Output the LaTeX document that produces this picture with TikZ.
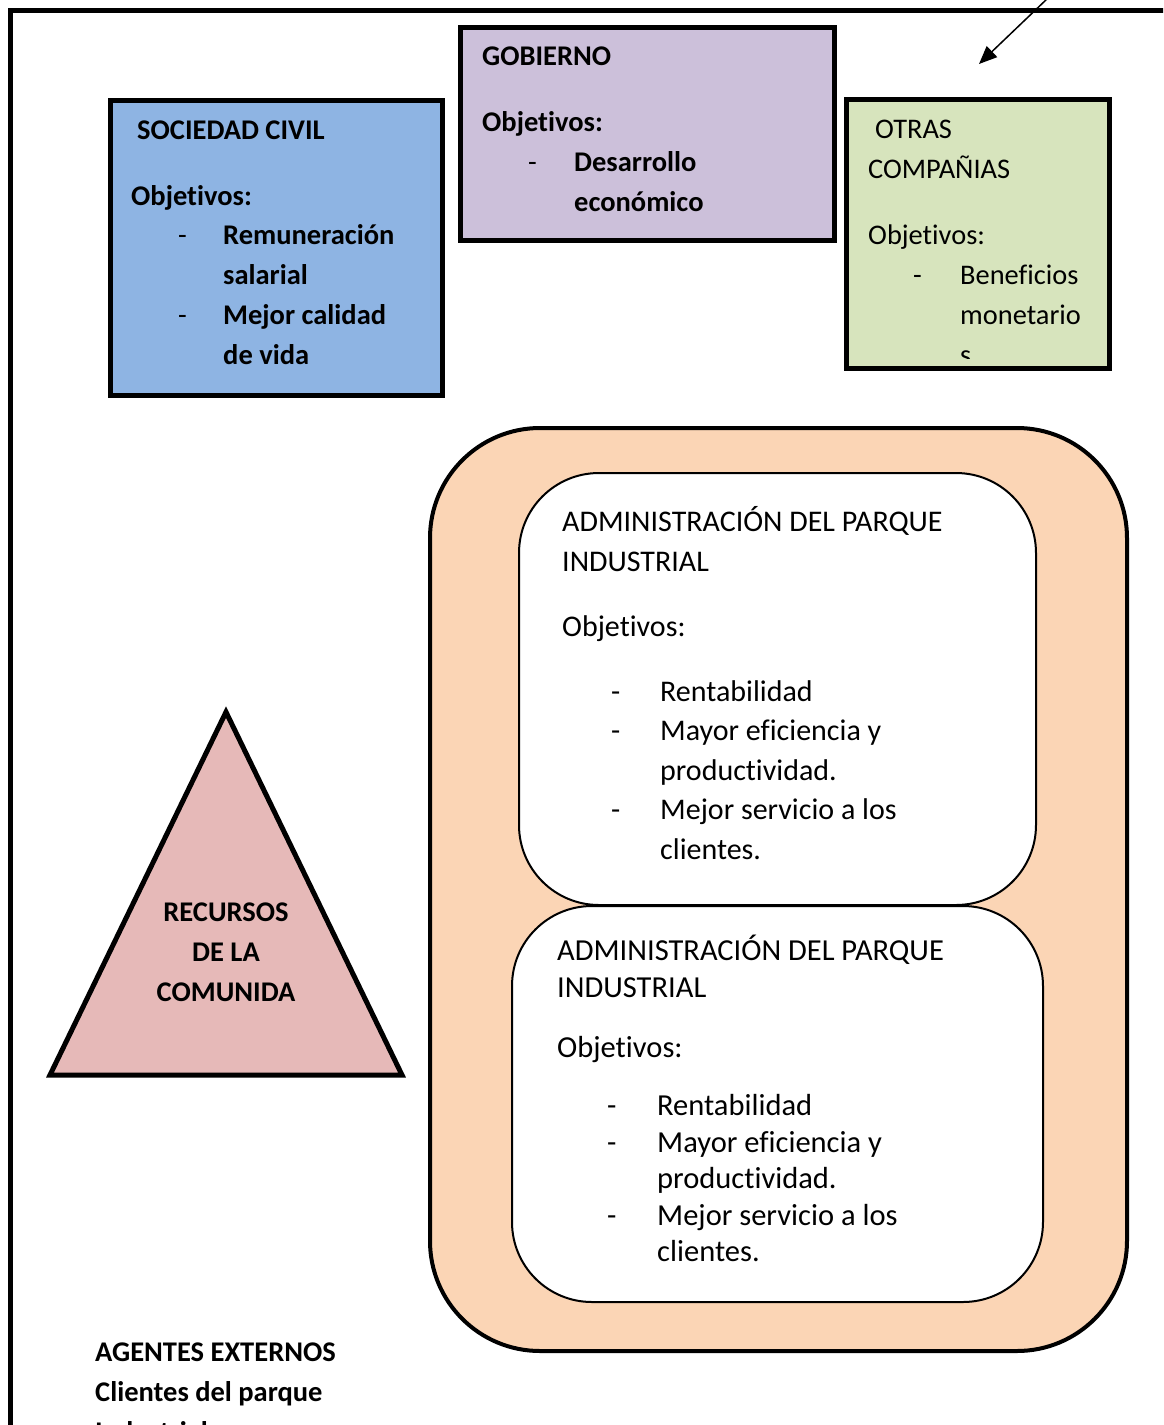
\documentclass[tikz,border=0pt]{standalone}
\usepackage{fontspec}
\setmainfont{Carlito}[Ligatures=NoCommon,RawFeature={-liga;-clig;-calt}]
\usetikzlibrary{arrows.meta}
\definecolor{civilc}{RGB}{142,180,227}
\definecolor{gobc}{RGB}{204,192,218}
\definecolor{otrasc}{RGB}{215,228,189}
\definecolor{triac}{RGB}{230,185,184}
\definecolor{peachc}{RGB}{251,213,181}
\begin{document}
\begin{tikzpicture}[x=1pt,y=-1pt,
  cbox/.style={draw,line width=5pt,anchor=north west,outer sep=0pt,inner sep=0pt},
  rbox/.style={draw,line width=2pt,fill=white,anchor=north west,outer sep=0pt,inner sep=0pt,rounded corners=80pt},
  boldtxt/.style={inner sep=0pt,anchor=base west,font=\fontsize{28.5}{34}\selectfont\bfseries},
  regtxt/.style={inner sep=0pt,anchor=base west,font=\fontsize{28.4}{34}\selectfont},
  admtxt/.style={inner sep=0pt,anchor=base west,font=\fontsize{30}{36}\selectfont},
  admtxtb/.style={inner sep=0pt,anchor=base west,font=\fontsize{30.5}{36}\selectfont},
  centxt/.style={inner sep=0pt,anchor=base,font=\fontsize{28.5}{34}\selectfont\bfseries}]
\useasboundingbox (0,0) rectangle (1163,1425);
\clip (0,0) rectangle (1163,1425);
% outer frame
\draw[line width=5pt] (10,1440) -- (10,10) -- (1175,10);
% arrow
\coordinate (arrS) at (1048,-2);
\coordinate (arrE) at (979,64);
\draw[line width=1.5pt,-{Triangle[length=18pt,width=15pt]}] (arrS) -- (arrE);
% top boxes
\node[cbox,fill=civilc,minimum width=332pt,minimum height=295pt] (civil) at (110,100) {};
\node[cbox,fill=gobc,minimum width=374pt,minimum height=213pt] (gob) at (460,27) {};
\node[cbox,fill=otrasc,minimum width=263pt,minimum height=269pt] (otras) at (846,99) {};
% civil text
\node[boldtxt] (c1) at (137,139) {SOCIEDAD CIVIL};
\node[boldtxt] (c2) at (131,205) {Objetivos:};
\node[regtxt] (c3d) at (178,244) {-};
\node[boldtxt] (c3) at (223,244) {Remuneración};
\node[boldtxt] (c4) at (223,284) {salarial};
\node[regtxt] (c5d) at (178,324) {-};
\node[boldtxt] (c5) at (223,324) {Mejor calidad};
\node[boldtxt] (c6) at (223,364) {de vida};
% gobierno text
\node[boldtxt] (g1) at (482,65) {GOBIERNO};
\node[boldtxt] (g2) at (482,131) {Objetivos:};
\node[regtxt] (g3d) at (528,171) {-};
\node[boldtxt] (g3) at (574,171) {Desarrollo};
\node[boldtxt] (g4) at (574,211) {económico};
% otras text
\node[regtxt] (o1) at (875,138) {OTRAS};
\node[regtxt] (o2) at (868,178) {COMPAÑIAS};
\node[regtxt] (o3) at (868,244) {Objetivos:};
\node[regtxt] (o4d) at (913,284) {-};
\node[regtxt] (o4) at (960,284) {Beneficios};
\node[regtxt] (o5) at (960,324) {monetario};
\begin{scope}
\clip (848,101) rectangle (1107,358);
\node[regtxt] (o6) at (960,364) {s};
\end{scope}
% core
\node[draw,line width=4pt,fill=peachc,anchor=north west,outer sep=0pt,inner sep=0pt,rounded corners=110pt,minimum width=697pt,minimum height=923pt] (core) at (430,428) {};
\node[rbox,minimum width=517pt,minimum height=432pt] (adm1) at (519,473) {};
\node[rbox,minimum width=531pt,minimum height=396pt] (adm2) at (512,906) {};
% adm1 text
\node[admtxt] (a1) at (562,531) {ADMINISTRACIÓN DEL PARQUE};
\node[admtxt] (a2) at (562,571) {INDUSTRIAL};
\node[admtxt] (a3) at (562,636) {Objetivos:};
\node[admtxt] (a4d) at (611,701) {-};
\node[admtxt] (a4) at (660,701) {Rentabilidad};
\node[admtxt] (a5d) at (611,740) {-};
\node[admtxt] (a5) at (660,740) {Mayor eficiencia y};
\node[admtxt] (a6) at (660,780) {productividad.};
\node[admtxt] (a7d) at (611,819) {-};
\node[admtxt] (a7) at (660,819) {Mejor servicio a los};
\node[admtxt] (a8) at (660,859) {clientes.};
% adm2 text
\node[admtxtb] (b1) at (557,960) {ADMINISTRACIÓN DEL PARQUE};
\node[admtxtb] (b2) at (557,997) {INDUSTRIAL};
\node[admtxtb] (b3) at (557,1057) {Objetivos:};
\node[admtxtb] (b4d) at (607,1115) {-};
\node[admtxtb] (b4) at (657,1115) {Rentabilidad};
\node[admtxtb] (b5d) at (607,1152) {-};
\node[admtxtb] (b5) at (657,1152) {Mayor eficiencia y};
\node[admtxtb] (b6) at (657,1188) {productividad.};
\node[admtxtb] (b7d) at (607,1225) {-};
\node[admtxtb] (b7) at (657,1225) {Mejor servicio a los};
\node[admtxtb] (b8) at (657,1261) {clientes.};
% triangle
\draw[line width=5pt,fill=triac,line join=miter] (226,712) -- (50,1075) -- (402,1075) -- cycle;
\node[centxt] (t1) at (226,921) {RECURSOS};
\node[centxt] (t2) at (226,961) {DE LA};
\node[centxt] (t3) at (226,1001) {COMUNIDA};
% bottom text
\node[boldtxt] (e1) at (95,1361) {AGENTES EXTERNOS};
\node[boldtxt] (e2) at (95,1401) {Clientes del parque};
\node[boldtxt] (e3) at (95,1441) {Industrial};
\end{tikzpicture}
\end{document}
